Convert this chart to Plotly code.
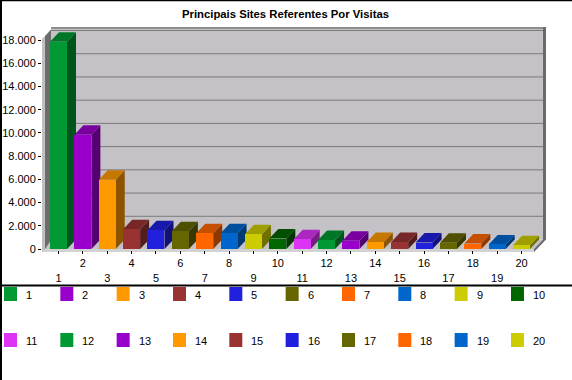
import plotly.graph_objects as go

# ---------------- data ----------------
categories = [str(i) for i in range(1, 21)]
visits = [17850, 9830, 5960, 1700, 1620, 1530, 1360, 1350, 1260, 900,
          830, 770, 720, 610, 600, 550, 540, 470, 390, 320]
palette = ["#009933", "#9900cc", "#ff9900", "#993333", "#2020dd",
           "#666600", "#ff6600", "#0066cc", "#cccc00", "#006600",
           "#dd33f5", "#009933", "#9900cc", "#ff9900", "#993333",
           "#2020dd", "#666600", "#ff6600", "#0066cc", "#cccc00"]
y_ticks = [0, 2000, 4000, 6000, 8000, 10000, 12000, 14000, 16000, 18000]
y_tick_labels = ["0", "2.000", "4.000", "6.000", "8.000", "10.000",
                 "12.000", "14.000", "16.000", "18.000"]
title = "Principais Sites Referentes Por Visitas"

# ---------------- geometry (pixels) ----------------
W, H = 572, 380
PL, PR, PT, PB = 42, 546, 26, 250
X0_PX, STEP = 58.5, 24.37          # pixel of first bar centre, px per category
Y0_PX, PXPU = 249.0, 209.0 / 18000  # pixel of value 0, px per unit
BAR_W = 17 / STEP
DDX = 9 / STEP
DDY = 9.5 / PXPU

x_range = [1 + (PL - X0_PX) / STEP, 1 + (PR - X0_PX) / STEP]
y_range = [(Y0_PX - PB) / PXPU, (Y0_PX - PT) / PXPU]


def px_x(px):
    return (px - PL) / (PR - PL)


def px_y(py):
    return (PB - py) / (PB - PT)


def shade(hexcol, f):
    h = hexcol.lstrip("#")
    r, g, b = (int(h[i:i + 2], 16) for i in (0, 2, 4))
    return "rgb(%d,%d,%d)" % (r * f, g * f, b * f)


def ppath(points):
    return "M " + " L ".join("%.4f,%.4f" % (px_x(a), px_y(b)) for a, b in points) + " Z"


shapes = []
WALL = "#c4c2c6"
# back wall
shapes.append(dict(type="path", xref="paper", yref="paper", layer="below",
                   path=ppath([(51, 239.5), (543, 239.5), (543, 27), (51, 27)]),
                   fillcolor=WALL, line=dict(width=0)))
# floor
shapes.append(dict(type="path", xref="paper", yref="paper", layer="below",
                   path=ppath([(42, 249), (534, 249), (543, 239.5), (51, 239.5)]),
                   fillcolor=WALL, line=dict(width=0)))
# back wall top edge and right edge
shapes.append(dict(type="path", xref="paper", yref="paper", layer="below",
                   path=ppath([(51, 27), (543, 27), (543, 29), (51, 29)]),
                   fillcolor="#8e8e8e", line=dict(width=0)))
shapes.append(dict(type="path", xref="paper", yref="paper", layer="below",
                   path=ppath([(543, 27), (546, 27), (546, 240), (543, 240)]),
                   fillcolor="#6a6a6a", line=dict(width=0)))
# floor front strip and right side
shapes.append(dict(type="path", xref="paper", yref="paper", layer="below",
                   path=ppath([(42, 249), (534, 249), (534, 252), (42, 252)]),
                   fillcolor="#d2d2d2", line=dict(width=0)))
shapes.append(dict(type="path", xref="paper", yref="paper", layer="below",
                   path=ppath([(534, 249), (543, 239.5), (546, 239.5), (537, 249), (534, 252)]),
                   fillcolor="#6a6a6a", line=dict(width=0)))
# left wall
shapes.append(dict(type="path", xref="paper", yref="paper", layer="below",
                   path=ppath([(42, 252), (42, 39), (45, 36), (45, 249)]),
                   fillcolor="#c0c0c0", line=dict(width=0)))
shapes.append(dict(type="path", xref="paper", yref="paper", layer="below",
                   path=ppath([(45, 249), (45, 36), (51, 29.5), (51, 240)]),
                   fillcolor="#6c6c6c", line=dict(width=0)))

# grid lines on back wall (data coords, shifted by depth)
for v in y_ticks[1:]:
    shapes.append(dict(type="line", xref="x", yref="y", layer="below",
                       x0=x_range[0] + (51 - PL) / STEP, x1=x_range[0] + (543 - PL) / STEP,
                       y0=v + DDY, y1=v + DDY,
                       line=dict(color="#7a7a7a", width=1)))

# 3D faces of bars
for i, (v, c) in enumerate(zip(visits, palette)):
    xc = i + 1
    l, r = xc - BAR_W / 2, xc + BAR_W / 2
    side = [(r, 0), (r, v), (r + DDX, v + DDY), (r + DDX, DDY)]
    top = [(l, v), (r, v), (r + DDX, v + DDY), (l + DDX, v + DDY)]
    shapes.append(dict(type="path", xref="x", yref="y", layer="below",
                       path="M " + " L ".join("%.4f,%.2f" % p for p in side) + " Z",
                       fillcolor=shade(c, 0.55), line=dict(width=0)))
    shapes.append(dict(type="path", xref="x", yref="y", layer="below",
                       path="M " + " L ".join("%.4f,%.2f" % p for p in top) + " Z",
                       fillcolor=shade(c, 0.78), line=dict(width=0)))

# borders
shapes.append(dict(type="line", xref="paper", yref="paper",
                   x0=px_x(0), x1=px_x(W), y0=px_y(0.5), y1=px_y(0.5),
                   line=dict(color="black", width=1.5)))
shapes.append(dict(type="line", xref="paper", yref="paper",
                   x0=px_x(1), x1=px_x(1), y0=px_y(0), y1=px_y(H),
                   line=dict(color="black", width=2)))
shapes.append(dict(type="line", xref="paper", yref="paper",
                   x0=px_x(0), x1=px_x(W), y0=px_y(285.5), y1=px_y(285.5),
                   line=dict(color="black", width=2)))

annotations = [dict(text="<b>" + title + "</b>", xref="paper", yref="paper",
                    x=px_x(285), y=px_y(14), xanchor="center", yanchor="middle",
                    showarrow=False, font=dict(size=11.3, color="black"))]

# manual legend
for k, (cat, c) in enumerate(zip(categories, palette)):
    row, col = divmod(k, 10)
    x0 = 4 + col * 56.33
    y0 = 287 + row * 46
    shapes.append(dict(type="rect", xref="paper", yref="paper",
                       x0=px_x(x0), x1=px_x(x0 + 13), y0=px_y(y0), y1=px_y(y0 + 14),
                       fillcolor=c, line=dict(width=0)))
    annotations.append(dict(text=cat, xref="paper", yref="paper",
                            x=px_x(x0 + 20), y=px_y(y0 + 7.5), xanchor="left", yanchor="middle",
                            showarrow=False, font=dict(size=11, color="black")))

x_tick_text = [("<br>" + c) if (i % 2 == 0) else c for i, c in enumerate(categories)]

fig = go.Figure()
fig.add_trace(go.Bar(x=list(range(1, 21)), y=visits, width=BAR_W,
                     marker=dict(color=palette, line=dict(width=0)),
                     hovertext=categories, showlegend=False))

fig.update_layout(
    width=W, height=H,
    margin=dict(l=PL, r=W - PR, t=PT, b=H - PB, pad=0, autoexpand=False),
    paper_bgcolor="white", plot_bgcolor="rgba(0,0,0,0)",
    font=dict(family="Liberation Sans, Arial, sans-serif", size=11, color="black"),
    showlegend=False,
    shapes=shapes, annotations=annotations,
    xaxis=dict(range=x_range, tickvals=list(range(1, 21)), ticktext=x_tick_text,
               showgrid=False, zeroline=False, showline=False, automargin=False,
               ticks="outside", ticklen=3, tickcolor="black", tickwidth=1,
               tickfont=dict(size=11), fixedrange=True),
    yaxis=dict(range=y_range, tickvals=y_ticks, ticktext=y_tick_labels,
               showgrid=False, zeroline=False, showline=False, automargin=False,
               ticks="outside", ticklen=3, tickcolor="black", tickwidth=1,
               tickfont=dict(size=11), fixedrange=True),
    bargap=0,
)

fig.write_html("out.html", config={"displayModeBar": False},
               post_script="document.body.style.margin='0';")
